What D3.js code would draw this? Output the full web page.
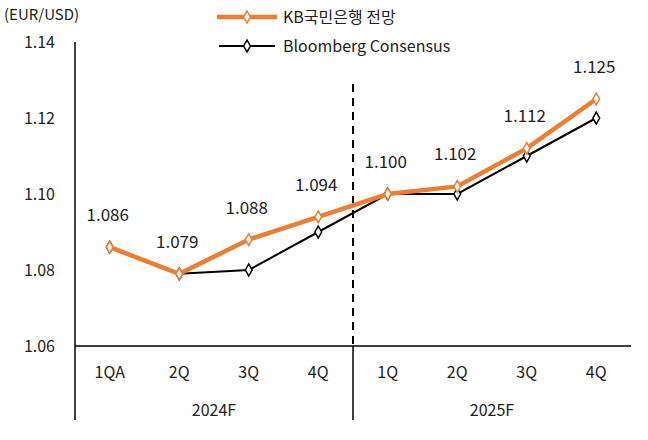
<!DOCTYPE html>
<html><head><meta charset="utf-8">
<script src="https://cdn.jsdelivr.net/npm/d3@7"></script>
<style>body{margin:0;background:#fff}text{font-family:"Noto Sans CJK KR","Noto Sans",sans-serif;fill:#222}</style>
</head><body><svg id="c" width="648" height="440"></svg>
<script>
var categories=["1QA","2Q","3Q","4Q","1Q","2Q","3Q","4Q"];
var groups=["2024F","2025F"];
var kbValues=[1.086,1.079,1.088,1.094,1.100,1.102,1.112,1.125];
var bbgValues=[1.086,1.079,1.080,1.090,1.100,1.100,1.110,1.120];
var kbLabels=["1.086","1.079","1.088","1.094","1.100","1.102","1.112","1.125"];
var yTicks=[1.06,1.08,1.10,1.12,1.14];

var svg=d3.select("#c");
var x=d3.scaleBand().domain(d3.range(categories.length)).range([75,631]);
var y=d3.scaleLinear().domain([1.06,1.14]).range([346,42]);
var cx=function(i){return x(i)+x.bandwidth()/2;};
var orange="#ED7D31";

svg.selectAll(".yt").data(yTicks).enter().append("text")
  .attr("x",55).attr("y",function(d){return y(d)+6;})
  .attr("text-anchor","end").style("font-size","16px").text(function(d){return d.toFixed(2);});
svg.append("text").attr("x",4).attr("y",20).style("font-size","15px").text("(EUR/USD)");

svg.append("line").attr("x1",75).attr("x2",75).attr("y1",42).attr("y2",420).attr("stroke","#000").attr("stroke-width",1.5);
svg.append("line").attr("x1",75).attr("x2",631).attr("y1",346).attr("y2",346).attr("stroke","#000").attr("stroke-width",1.5);
var mid=x(4);
svg.append("line").attr("x1",mid).attr("x2",mid).attr("y1",346).attr("y2",420).attr("stroke","#000").attr("stroke-width",1.5);
svg.append("line").attr("x1",mid).attr("x2",mid).attr("y1",84).attr("y2",346).attr("stroke","#000").attr("stroke-width",2).attr("stroke-dasharray","8,6");

svg.selectAll(".ct").data(categories).enter().append("text")
  .attr("x",function(d,i){return cx(i);}).attr("y",378).attr("text-anchor","middle").style("font-size","16px").text(function(d){return d;});
svg.selectAll(".gt").data(groups).enter().append("text")
  .attr("x",function(d,i){return (x(i*4)+x(i*4+3)+x.bandwidth())/2;}).attr("y",416).attr("text-anchor","middle").style("font-size","16px").text(function(d){return d;});

var line=d3.line().x(function(d,i){return cx(i);}).y(function(d){return y(d);});
var diamond=d3.symbol().type(d3.symbolDiamond).size(40);

svg.append("path").datum(bbgValues).attr("d",line).attr("fill","none").attr("stroke","#000").attr("stroke-width",2);
svg.selectAll(".bm").data(bbgValues).enter().append("path").attr("d",diamond)
  .attr("transform",function(d,i){return "translate("+cx(i)+","+y(d)+")";})
  .attr("fill","#fff").attr("stroke","#000").attr("stroke-width",1.5);

svg.append("path").datum(kbValues).attr("d",line).attr("fill","none").attr("stroke",orange).attr("stroke-width",4.5);
svg.selectAll(".km").data(kbValues).enter().append("path").attr("d",diamond)
  .attr("transform",function(d,i){return "translate("+cx(i)+","+y(d)+")";})
  .attr("fill","#fff").attr("stroke",orange).attr("stroke-width",1.5);

svg.selectAll(".kl").data(kbLabels).enter().append("text")
  .attr("x",function(d,i){return cx(i)-2;}).attr("y",function(d,i){return y(kbValues[i])-26;})
  .attr("text-anchor","middle").style("font-size","17px").text(function(d){return d;});

// legend
svg.append("line").attr("x1",217).attr("x2",277).attr("y1",17).attr("y2",17).attr("stroke",orange).attr("stroke-width",4.5);
svg.append("path").attr("d",diamond).attr("transform","translate(247,17)").attr("fill","#fff").attr("stroke",orange).attr("stroke-width",1.5);
svg.append("text").attr("x",283).attr("y",23).style("font-size","16px").text("KB국민은행 전망");
svg.append("line").attr("x1",219).attr("x2",275).attr("y1",46).attr("y2",46).attr("stroke","#000").attr("stroke-width",2);
svg.append("path").attr("d",diamond).attr("transform","translate(247,46)").attr("fill","#fff").attr("stroke","#000").attr("stroke-width",1.5);
svg.append("text").attr("x",283).attr("y",52).style("font-size","16px").text("Bloomberg Consensus");
</script></body></html>
